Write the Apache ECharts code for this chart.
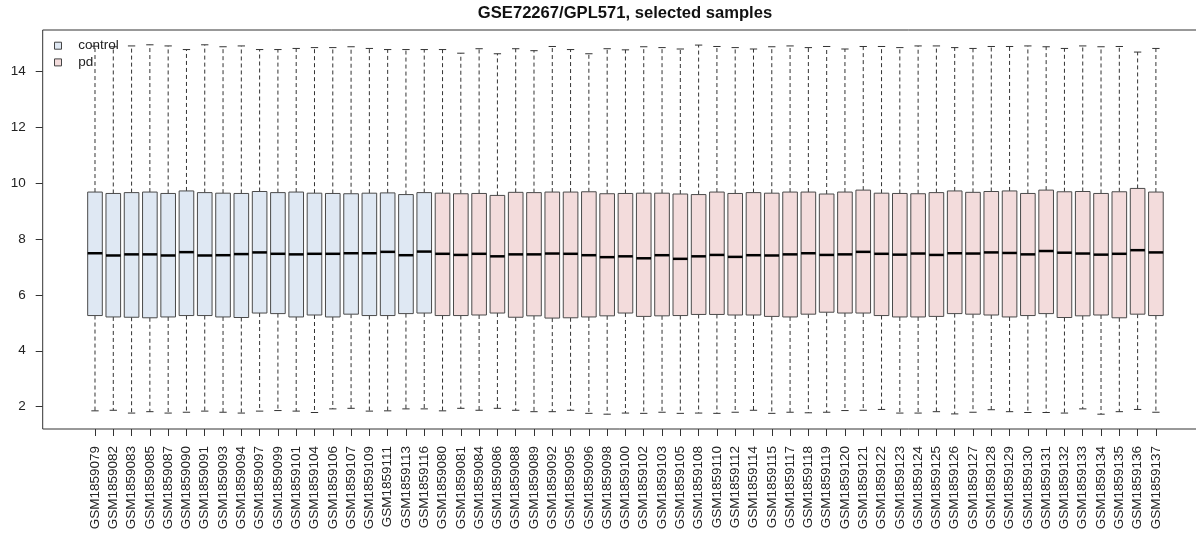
<!DOCTYPE html>
<html>
<head>
<meta charset="utf-8">
<script src="https://cdn.jsdelivr.net/npm/echarts@6/dist/echarts.min.js"></script>
<style>
html,body{margin:0;padding:0;background:#fff;}
#chart{width:1196px;height:535px;}
</style>
</head>
<body>
<div id="chart"></div>
<script>
const samples = ["GSM1859079","GSM1859082","GSM1859083","GSM1859085","GSM1859087","GSM1859090","GSM1859091","GSM1859093","GSM1859094","GSM1859097","GSM1859099","GSM1859101","GSM1859104","GSM1859106","GSM1859107","GSM1859109","GSM1859111","GSM1859113","GSM1859116",
"GSM1859080","GSM1859081","GSM1859084","GSM1859086","GSM1859088","GSM1859089","GSM1859092","GSM1859095","GSM1859096","GSM1859098","GSM1859100","GSM1859102","GSM1859103","GSM1859105","GSM1859108","GSM1859110","GSM1859112","GSM1859114","GSM1859115","GSM1859117","GSM1859118","GSM1859119","GSM1859120","GSM1859121","GSM1859122","GSM1859123","GSM1859124","GSM1859125","GSM1859126","GSM1859127","GSM1859128","GSM1859129","GSM1859130","GSM1859131","GSM1859132","GSM1859133","GSM1859134","GSM1859135","GSM1859136","GSM1859137"];
const groups = ["control","control","control","control","control","control","control","control","control","control","control","control","control","control","control","control","control","control","control",
"pd","pd","pd","pd","pd","pd","pd","pd","pd","pd","pd","pd","pd","pd","pd","pd","pd","pd","pd","pd","pd","pd","pd","pd","pd","pd","pd","pd","pd","pd","pd","pd","pd","pd","pd","pd","pd","pd","pd","pd"];
const lowWhisker = [1.85,1.87,1.77,1.82,1.77,1.80,1.84,1.80,1.77,1.84,1.86,1.84,1.79,1.92,1.94,1.84,1.85,1.92,1.92,
1.85,1.94,1.87,1.94,1.87,1.82,1.82,1.87,1.76,1.73,1.77,1.76,1.80,1.76,1.77,1.76,1.80,1.87,1.76,1.80,1.78,1.80,1.86,1.87,1.90,1.77,1.77,1.82,1.74,1.80,1.89,1.82,1.79,1.79,1.77,1.92,1.73,1.82,1.90,1.80];
const q1 = [5.26,5.21,5.20,5.18,5.21,5.26,5.26,5.21,5.19,5.35,5.33,5.21,5.28,5.21,5.31,5.26,5.26,5.33,5.35,
5.26,5.26,5.28,5.35,5.20,5.25,5.17,5.18,5.21,5.25,5.35,5.23,5.25,5.26,5.30,5.30,5.28,5.28,5.23,5.21,5.31,5.38,5.35,5.35,5.26,5.21,5.21,5.23,5.33,5.31,5.28,5.21,5.26,5.33,5.19,5.25,5.28,5.18,5.31,5.26];
const median = [7.49,7.41,7.45,7.45,7.41,7.53,7.41,7.42,7.46,7.52,7.47,7.45,7.47,7.47,7.49,7.49,7.54,7.42,7.55,
7.47,7.43,7.47,7.38,7.45,7.45,7.48,7.47,7.42,7.35,7.38,7.31,7.42,7.29,7.38,7.43,7.36,7.42,7.41,7.45,7.49,7.43,7.45,7.54,7.47,7.44,7.48,7.43,7.49,7.48,7.52,7.50,7.45,7.57,7.51,7.48,7.44,7.47,7.60,7.52];
const q3 = [9.68,9.63,9.66,9.68,9.63,9.72,9.66,9.64,9.63,9.70,9.66,9.68,9.64,9.63,9.62,9.64,9.65,9.59,9.66,
9.64,9.62,9.63,9.56,9.67,9.66,9.68,9.68,9.69,9.62,9.63,9.64,9.64,9.61,9.59,9.68,9.63,9.66,9.64,9.68,9.68,9.61,9.68,9.75,9.64,9.63,9.62,9.66,9.72,9.67,9.70,9.72,9.63,9.75,9.69,9.70,9.63,9.69,9.81,9.68];
const highWhisker = [14.90,14.88,14.91,14.95,14.91,14.78,14.95,14.88,14.91,14.78,14.78,14.82,14.85,14.85,14.88,14.82,14.78,14.78,14.78,
14.78,14.65,14.81,14.63,14.81,14.74,14.89,14.78,14.63,14.81,14.77,14.88,14.85,14.80,14.94,14.89,14.85,14.80,14.88,14.91,14.85,14.89,14.80,14.89,14.89,14.85,14.91,14.91,14.85,14.82,14.89,14.89,14.91,14.88,14.82,14.91,14.88,14.89,14.69,14.82];
const yTicks = [2,4,6,8,10,12,14];
const groupNames = ["control","pd"];
const groupColors = {control:"#dfe8f3", pd:"#f3dcdc"};

const FONT = "'Liberation Sans', Arial, Helvetica, sans-serif";

function seriesData(g){
  const out = [];
  samples.forEach(function(s, i){
    if (groups[i] === g) out.push([i, lowWhisker[i], q1[i], median[i], q3[i], highWhisker[i]]);
  });
  return out;
}

function renderBox(params, api){
  const x = api.value(0);
  const pLow = api.coord([x, api.value(1)]);
  const pQ1 = api.coord([x, api.value(2)]);
  const pMed = api.coord([x, api.value(3)]);
  const pQ3 = api.coord([x, api.value(4)]);
  const pHigh = api.coord([x, api.value(5)]);
  const band = api.size([1, 0])[0];
  const cx = pMed[0];
  const hw = band * 0.4;
  const sw = band * 0.2;
  const fill = api.visual('color');
  const dash = {stroke:'#333', lineWidth:1, lineDash:[4,3]};
  const solid = {stroke:'#333', lineWidth:1};
  return {
    type:'group',
    children:[
      {type:'line', shape:{x1:cx, y1:pQ3[1], x2:cx, y2:pHigh[1]}, style:dash},
      {type:'line', shape:{x1:cx, y1:pQ1[1], x2:cx, y2:pLow[1]}, style:dash},
      {type:'line', shape:{x1:cx-sw, y1:pHigh[1], x2:cx+sw, y2:pHigh[1]}, style:solid},
      {type:'line', shape:{x1:cx-sw, y1:pLow[1], x2:cx+sw, y2:pLow[1]}, style:solid},
      {type:'rect', shape:{x:cx-hw, y:pQ3[1], width:2*hw, height:pQ1[1]-pQ3[1]}, style:{fill:fill, stroke:'#4a4a4a', lineWidth:1}},
      {type:'line', shape:{x1:cx-hw, y1:pMed[1], x2:cx+hw, y2:pMed[1]}, style:{stroke:'#000', lineWidth:2.5}}
    ]
  };
}

const chart = echarts.init(document.getElementById('chart'), null, {renderer:'canvas'});
const yMin = 1.2, yMax = 15.48;

chart.setOption({
  backgroundColor:'#fff',
  animation:false,
  title:{
    text:'GSE72267/GPL571, selected samples',
    left:625, top:5, padding:0, textAlign:'center',
    textStyle:{fontFamily:FONT, fontSize:16.6, fontWeight:'bold', color:'#111'}
  },
  legend:{
    orient:'vertical', left:54, top:38.7, padding:0, itemWidth:7, itemHeight:7, itemGap:2.7,
    selectedMode:false,
    textStyle:{fontFamily:FONT, fontSize:13.5, color:'#222', lineHeight:14, padding:[0,0,0,11.7]},
    data: groupNames.map(function(g){ return {name:g, icon:'rect', itemStyle:{color:groupColors[g], borderColor:'#444', borderWidth:1}}; })
  },
  graphic:[
    {type:'rect', z:-1, silent:true, shape:{x:42.7, y:30, width:1166, height:399}, style:{fill:'none', stroke:'#333', lineWidth:1}}
  ],
  grid:[
    {left:85.85, top:30, width:1079.2, height:399, containLabel:false},
    {left:42.7, top:30, width:1100, height:399, show:false, containLabel:false}
  ],
  xAxis:[
    {type:'category', gridIndex:0, data:samples, boundaryGap:true,
      axisLine:{show:false},
      axisTick:{show:true, alignWithLabel:true, length:7, lineStyle:{color:'#333'}},
      axisLabel:{interval:0, rotate:90, margin:17, fontFamily:FONT, fontSize:13.5, color:'#222'},
      splitLine:{show:false}},
    {type:'value', gridIndex:1, min:0, max:1, show:false}
  ],
  yAxis:[
    {type:'value', gridIndex:0, min:yMin, max:yMax, show:false, splitLine:{show:false}},
    {type:'value', gridIndex:1, min:yMin, max:yMax, position:'left',
      axisLine:{show:false},
      axisTick:{show:true, length:7, lineStyle:{color:'#333'}, customValues:yTicks},
      axisLabel:{margin:17, fontFamily:FONT, fontSize:13.5, color:'#222', customValues:yTicks},
      splitLine:{show:false}}
  ],
  series: groupNames.map(function(g){
    return {
      name:g, type:'custom', xAxisIndex:0, yAxisIndex:0,
      itemStyle:{color:groupColors[g]},
      encode:{x:0, y:[1,2,3,4,5]},
      renderItem:renderBox,
      data:seriesData(g)
    };
  })
});
</script>
</body>
</html>
